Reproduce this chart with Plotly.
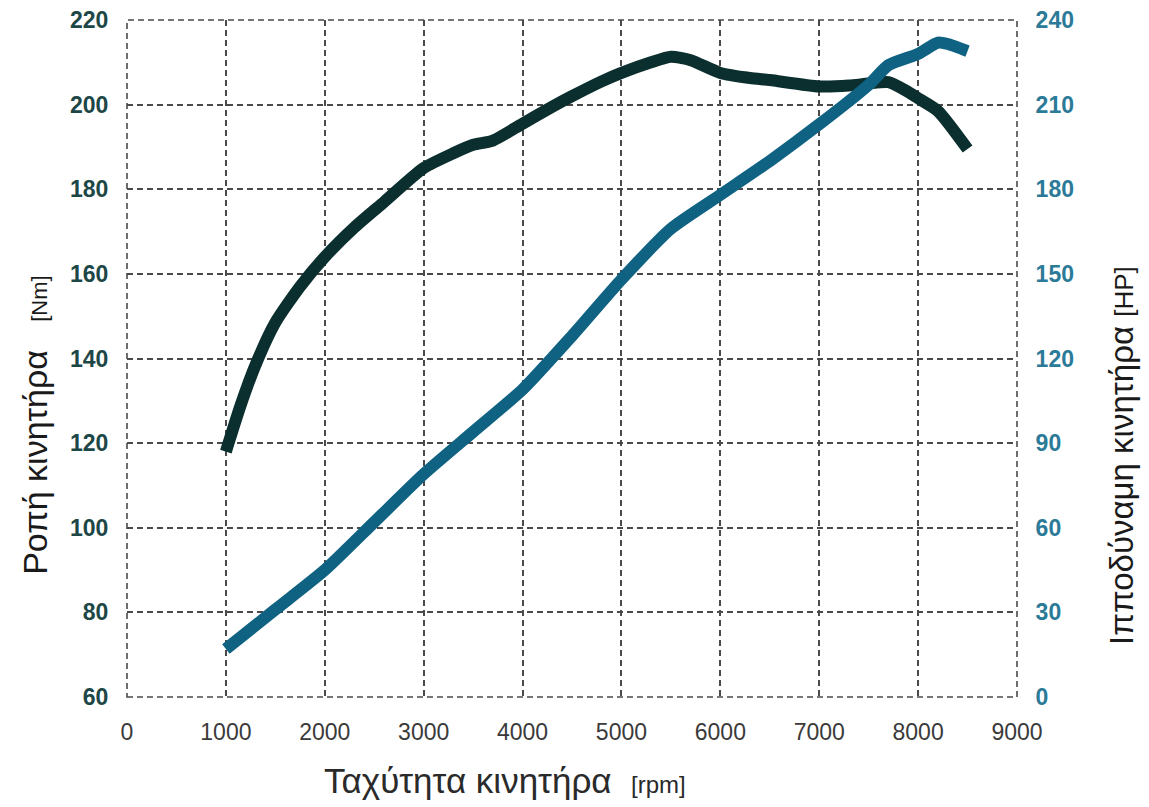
import plotly.graph_objects as go

rpm_torque = [1000, 1150, 1300, 1500, 1750, 2000, 2300, 2600, 3000, 3300, 3500, 3700,
              4000, 4300, 4500, 4800, 5000, 5300, 5500, 5700, 6000, 6300, 6500, 7000, 7300,
              7500, 7700, 7900, 8000, 8200, 8500]
torque_nm = [118, 129, 138.5, 148.5, 157, 164, 171, 177, 185, 188.5, 190.5, 191.5,
             195.5, 199.5, 202, 205.5, 207.5, 210, 211.3, 210.5, 207.5, 206.3, 205.8, 204.3, 204.5,
             205, 205.3, 203, 201.5, 198.5, 189.5]

rpm_power = [1000, 1500, 2000, 2500, 3000, 3500, 4000, 4500, 5000, 5500, 6000, 6500, 7000, 7500,
             7700, 8000, 8200, 8300, 8500]
power_hp = [17, 31, 45, 62, 79, 94, 109, 128, 148, 166, 178, 190, 203, 217,
            224, 228, 232, 231.5, 229]

x_ticks = [0, 1000, 2000, 3000, 4000, 5000, 6000, 7000, 8000, 9000]
y_ticks = [60, 80, 100, 120, 140, 160, 180, 200, 220]
y2_ticks = [0, 30, 60, 90, 120, 150, 180, 210, 240]

x_title = "Ταχύτητα κινητήρα  <span style='font-size:24px'>[rpm]</span>"
y_title = "Ροπή κινητήρα   <span style='font-size:22px'>[Nm]</span>"
y2_title = "Ιπποδύναμη κινητήρα <span style='font-size:26px'>[HP]</span>"

TORQUE_C = "#0b2e2e"
POWER_C = "#0f6282"
GRID_C = "#4a4a4a"
FONT = "Liberation Sans, Arial, sans-serif"

fig = go.Figure()
fig.add_trace(go.Scatter(x=rpm_power, y=power_hp, mode="lines", yaxis="y2",
                         line=dict(color=POWER_C, width=12, shape="spline", smoothing=0.6),
                         showlegend=False))
fig.add_trace(go.Scatter(x=rpm_torque, y=torque_nm, mode="lines",
                         line=dict(color=TORQUE_C, width=12, shape="spline", smoothing=0.6),
                         showlegend=False))

grid = dict(showgrid=True, gridcolor=GRID_C, griddash="6px,4px", gridwidth=1.6,
            zeroline=False, showline=False, automargin=False, ticklabeloverflow="allow")

fig.update_layout(
    width=1149, height=807,
    margin=dict(l=119, r=140, t=12, b=118),
    paper_bgcolor="white", plot_bgcolor="white",
    font=dict(family=FONT),
    xaxis=dict(range=[0, 9000], tickvals=x_ticks, **grid,
               ticks="outside", ticklen=14, tickcolor="rgba(0,0,0,0)",
               tickfont=dict(size=23, color="#3a3a3a")),
    yaxis=dict(range=[60, 220], tickvals=y_ticks, **grid,
               ticks="outside", ticklen=13, tickcolor="rgba(0,0,0,0)",
               tickfont=dict(size=23, color="#1d4646", weight="bold")),
    yaxis2=dict(range=[0, 240], tickvals=y2_ticks, overlaying="y", side="right",
                showgrid=False, zeroline=False, showline=False, automargin=False,
                ticklabeloverflow="allow",
                ticks="outside", ticklen=13, tickcolor="rgba(0,0,0,0)",
                tickfont=dict(size=23, color="#2b7a98", weight="bold")),
    shapes=[dict(type="rect", xref="paper", yref="paper", x0=0, x1=1, y0=0, y1=1,
                 line=dict(color=GRID_C, width=1.6, dash="6px,4px"), layer="below")],
    annotations=[
        dict(text=x_title, xref="paper", yref="paper", x=0.4247, y=-0.1226,
             xanchor="center", yanchor="middle", showarrow=False,
             font=dict(size=35, color="#2a2a2a")),
        dict(text=y_title, xref="paper", yref="paper", x=-0.1034, y=0.402,
             xanchor="center", yanchor="middle", showarrow=False, textangle=-90,
             font=dict(size=34, color="#1a1a1a")),
        dict(text=y2_title, xref="paper", yref="paper", x=1.118, y=0.356,
             xanchor="center", yanchor="middle", showarrow=False, textangle=-90,
             font=dict(size=33, color="#1a1a1a")),
    ],
)

fig.write_html("out.html")
